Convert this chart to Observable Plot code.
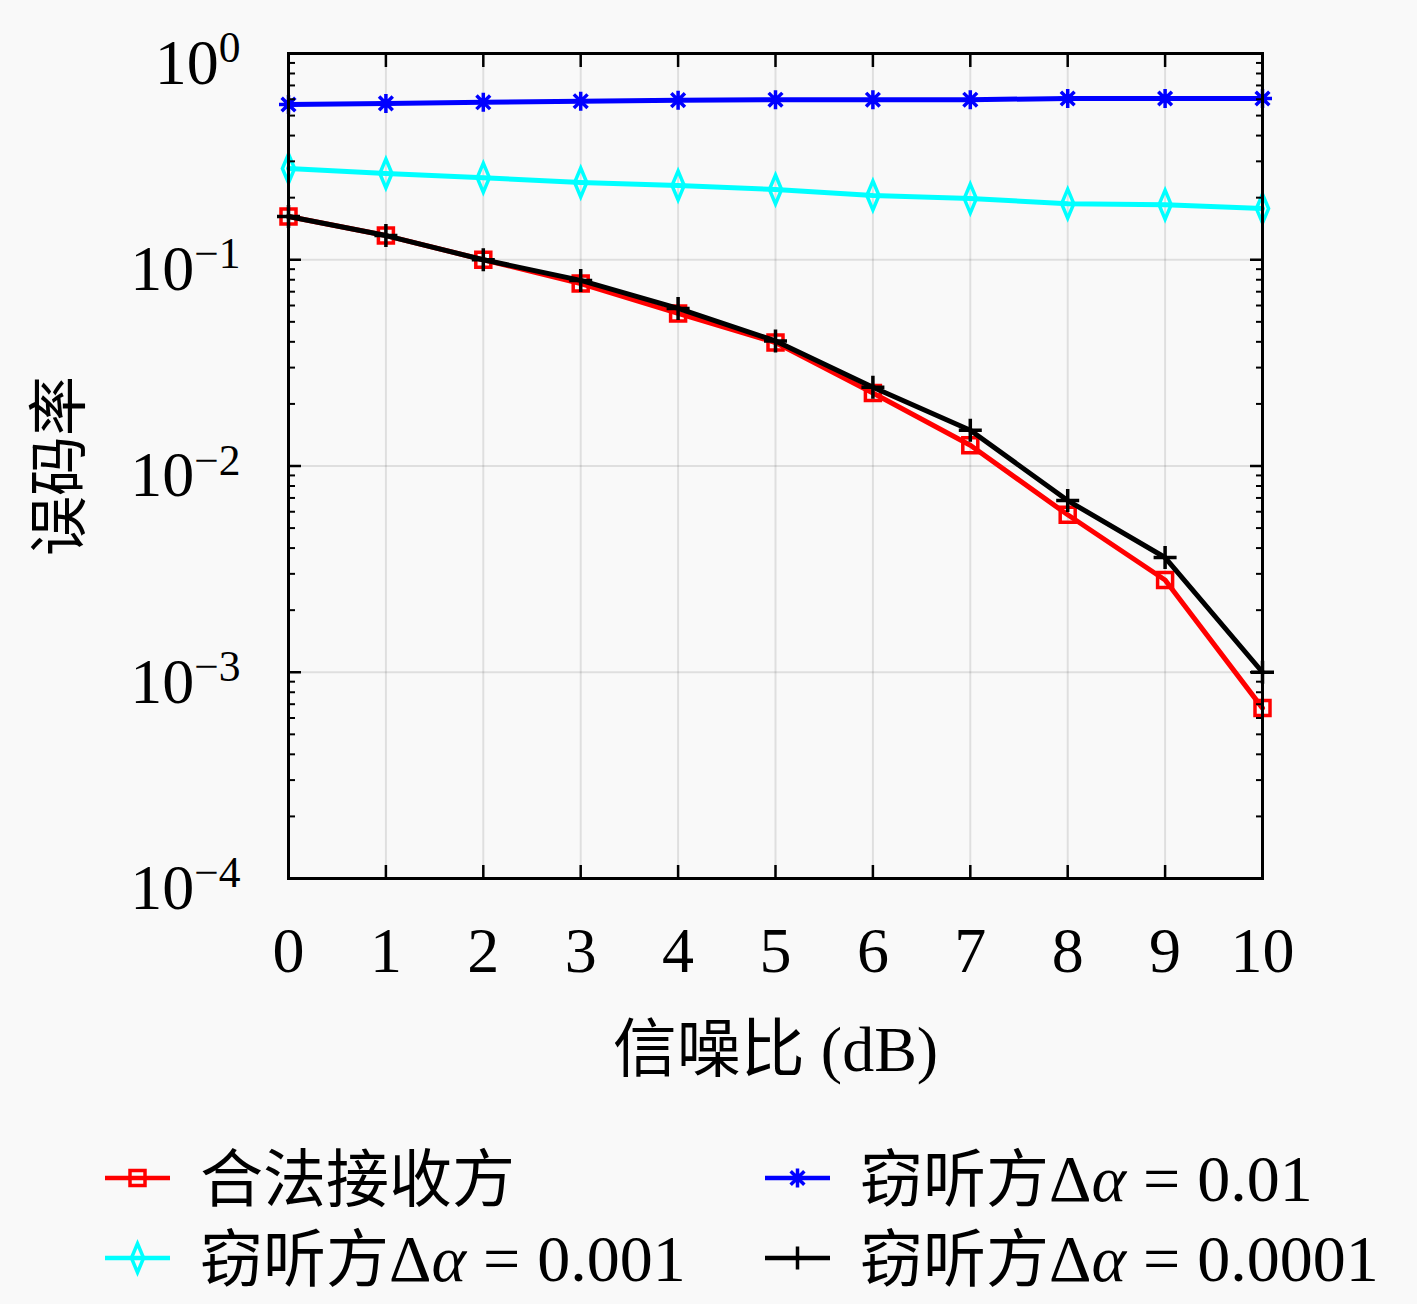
<!DOCTYPE html>
<html>
<head>
<meta charset="utf-8">
<script src="https://cdn.jsdelivr.net/npm/d3@7"></script>
<script src="https://cdn.jsdelivr.net/npm/@observablehq/plot@0.6"></script>
<style>
  html, body { margin: 0; padding: 0; background: #f9f9f9; }
  #chart svg, #legend svg { display: block; }
</style>
</head>
<body>
<div id="chart"></div>
<div id="legend"></div>
<script>
// ---- data ----
const snr = [0, 1, 2, 3, 4, 5, 6, 7, 8, 9, 10];
const berLegit   = [0.162, 0.131, 0.100, 0.0767, 0.0549, 0.0397, 0.0226, 0.0126, 0.0058, 0.0028, 0.00067];
const berEve001  = [0.566, 0.573, 0.580, 0.587, 0.594, 0.597, 0.597, 0.597, 0.605, 0.605, 0.605];
const berEve0001 = [0.277, 0.262, 0.250, 0.237, 0.229, 0.219, 0.205, 0.198, 0.187, 0.185, 0.177];
const berEve00001 = [0.162, 0.131, 0.100, 0.0794, 0.0581, 0.0404, 0.0241, 0.0149, 0.0068, 0.0036, 0.00100];
const seriesNames = ["合法接收方", "窃听方Δα=0.01", "窃听方Δα=0.001", "窃听方Δα=0.0001"];
const seriesColors = ["#ff0000", "#0000ff", "#00ffff", "#000000"];
const xTicks = [0, 1, 2, 3, 4, 5, 6, 7, 8, 9, 10];
const yTicks = [1e-4, 1e-3, 1e-2, 1e-1, 1];
const yMinorTicks = [];
for (const base of [1e-4, 1e-3, 1e-2, 1e-1]) for (const m of [2,3,4,5,6,7,8,9]) yMinorTicks.push(base * m);
const xLabel = "信噪比 (dB)";
const yLabel = "误码率";

// ---- symbols (MATLAB-like markers) ----
const symSquare = { draw(c, s) { const r = Math.sqrt(s / Math.PI); c.moveTo(-r, -r); c.lineTo(r, -r); c.lineTo(r, r); c.lineTo(-r, r); c.closePath(); } };
const symDiamond = { draw(c, s) { const r = Math.sqrt(s / Math.PI); const w = r * 0.42; c.moveTo(0, -r); c.lineTo(w, 0); c.lineTo(0, r); c.lineTo(-w, 0); c.closePath(); } };
const symPlus = { draw(c, s) { const r = Math.sqrt(s / Math.PI); c.moveTo(-r, 0); c.lineTo(r, 0); c.moveTo(0, -r); c.lineTo(0, r); } };
const symAsterisk = { draw(c, s) { const r = Math.sqrt(s / Math.PI); const d = r * 0.72; c.moveTo(-r, 0); c.lineTo(r, 0); c.moveTo(0, -r); c.lineTo(0, r); c.moveTo(-d, -d); c.lineTo(d, d); c.moveTo(-d, d); c.lineTo(d, -d); } };
const seriesSymbols = [symSquare, symAsterisk, symDiamond, symPlus];
const seriesR = [7.5, 9.5, 14.5, 11.5];

const seriesValues = [berLegit, berEve001, berEve0001, berEve00001];
const rows = [];
seriesNames.forEach((name, k) => snr.forEach((x, i) => rows.push({ snr: x, ber: seriesValues[k][i], series: name })));

const font = "'Liberation Serif', 'DejaVu Serif', serif";
const mixed = "'Liberation Serif', 'Noto Sans CJK SC', serif";
const cjk = "'Noto Sans CJK SC', 'Liberation Serif', serif";
const drawOrder = [0, 1, 2, 3];

const marks = [
  Plot.gridX(xTicks, { stroke: "#000", strokeOpacity: 0.1, strokeWidth: 2 }),
  Plot.gridY(yTicks, { stroke: "#000", strokeOpacity: 0.1, strokeWidth: 2 }),
];
for (const k of drawOrder) {
  const data = rows.filter(d => d.series === seriesNames[k]);
  marks.push(Plot.line(data, { x: "snr", y: "ber", stroke: "series", strokeWidth: 5 }));
  marks.push(Plot.dot(data, { x: "snr", y: "ber", stroke: "series", fill: "none", strokeWidth: 3.5, symbol: seriesSymbols[k], r: seriesR[k] }));
}
marks.push(
  Plot.axisX(xTicks, { anchor: "bottom", tickSize: 0, tickPadding: 48, label: null, fontSize: 64, fontFamily: font }),
  Plot.axisX(xTicks, { anchor: "bottom", tickSize: -13, tickFormat: () => "", label: null, strokeWidth: 2.5 }),
  Plot.axisX(xTicks, { anchor: "top", tickSize: -13, tickFormat: () => "", label: null, strokeWidth: 2.5 }),
  Plot.axisY(yTicks, { anchor: "left", tickSize: 0, tickPadding: 48, dy: 10, label: null, fontSize: 64, fontFamily: font, tickFormat: d => "E" + Math.round(Math.log10(d)) }),
  Plot.axisY(yTicks, { anchor: "left", tickSize: -13, tickFormat: () => "", label: null, strokeWidth: 2.5 }),
  Plot.axisY(yTicks, { anchor: "right", tickSize: -13, tickFormat: () => "", label: null, strokeWidth: 2.5 }),
  Plot.axisY(yMinorTicks, { anchor: "left", tickSize: -7, tickFormat: () => "", label: null, strokeWidth: 2 }),
  Plot.axisY(yMinorTicks, { anchor: "right", tickSize: -7, tickFormat: () => "", label: null, strokeWidth: 2 }),
  Plot.text([xLabel], { text: d => d, frameAnchor: "bottom", textAnchor: "middle", dy: 172, lineAnchor: "middle", fontSize: 64, fontFamily: mixed }),
  Plot.text([yLabel], { text: d => d, frameAnchor: "left", textAnchor: "middle", dx: -228, rotate: -90, lineAnchor: "middle", fontSize: 60, fontFamily: cjk }),
  Plot.frame({ stroke: "#000", strokeWidth: 3 })
);

const chart = Plot.plot({
  width: 1417,
  height: 1110,
  marginTop: 53,
  marginBottom: 232,
  marginLeft: 288,
  marginRight: 155,
  style: { background: "transparent", color: "#000", fontFamily: font },
  x: { domain: [0, 10] },
  y: { type: "log", domain: [1e-4, 1] },
  color: { domain: seriesNames, range: seriesColors },
  marks
});
document.getElementById("chart").appendChild(chart);

// superscript exponents on y tick labels
d3.select(chart).selectAll("text").each(function () {
  const t = d3.select(this);
  const s = t.text();
  if (!/^E-?\d+$/.test(s)) return;
  const e = s.slice(1).replace("-", "\u2212");
  t.text("10");
  t.append("tspan").attr("dy", "-0.5em").attr("font-size", "0.68em").text(e);
});

// ---- legend (below the chart) ----
const legendItems = [
  { k: 0, x: 105, y: 68 },
  { k: 1, x: 765, y: 68 },
  { k: 2, x: 105, y: 148 },
  { k: 3, x: 765, y: 148 },
];
const lg = d3.select("#legend").append("svg").attr("width", 1417).attr("height", 194);
for (const it of legendItems) {
  const g = lg.append("g").attr("transform", `translate(${it.x},${it.y})`);
  const col = seriesColors[it.k];
  g.append("line").attr("x1", 0).attr("x2", 65).attr("y1", 0).attr("y2", 0).attr("stroke", col).attr("stroke-width", 4.5);
  const r = seriesR[it.k];
  g.append("path").attr("transform", "translate(32.5,0)")
    .attr("d", d3.symbol(seriesSymbols[it.k], r * r * Math.PI)())
    .attr("fill", "none").attr("stroke", col).attr("stroke-width", 3.5);
  const name = seriesNames[it.k];
  const txt = g.append("text").attr("x", 95).attr("y", 0).attr("dy", "0.36em")
    .attr("font-size", 63).attr("font-family", mixed).attr("fill", "#000");
  const idx = name.indexOf("Δ");
  if (idx < 0) {
    txt.text(name);
  } else {
    const eq = name.indexOf("=");
    txt.append("tspan").text(name.slice(0, idx));
    txt.append("tspan").attr("font-size", 66).text("Δ");
    txt.append("tspan").attr("font-size", 66).attr("font-style", "italic").text("α");
    txt.append("tspan").attr("font-size", 66).attr("dx", 17).text("=");
    txt.append("tspan").attr("font-size", 66).attr("dx", 17).text(name.slice(eq + 1));
  }
}
</script>
</body>
</html>
